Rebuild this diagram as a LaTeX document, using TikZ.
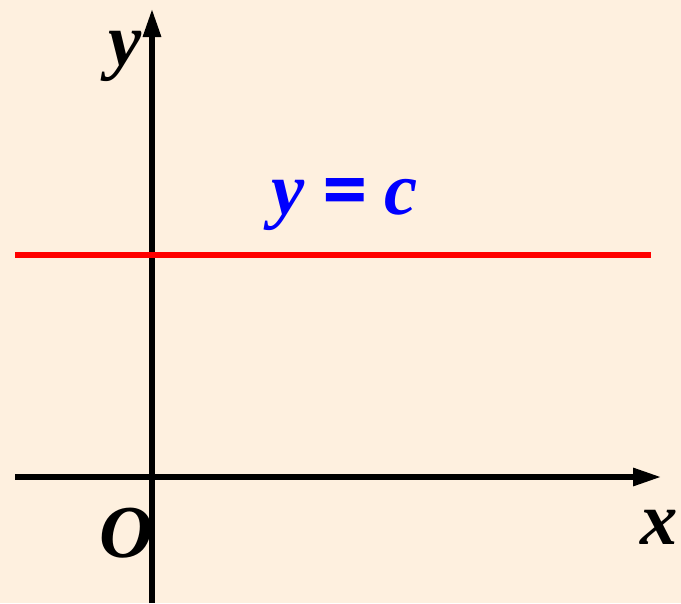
\documentclass[tikz,border=0pt]{standalone}
\usepackage{fontspec}
\setmainfont{Liberation Serif}
\newfontfamily\eqbold[FakeBold=4]{Liberation Serif}
\usetikzlibrary{arrows.meta}
\definecolor{paper}{HTML}{FEF0DF}
\definecolor{liney}{HTML}{FF0000}
\definecolor{textc}{HTML}{0000FF}
\begin{document}
\begin{tikzpicture}[x=.75pt,y=-.75pt,>={Triangle[length=21pt,width=13pt]},
  lbl/.style={font=\fontsize{56}{60}\selectfont\bfseries\itshape,inner sep=0pt}]
 \fill[paper](0,0)rectangle(681,603);
 \useasboundingbox(0,0)rectangle(681,603);
 \draw[->,line width=3.8pt](15,477)--(661,477);
 \draw[->,line width=3.8pt](152,603)--(152,9);
 \draw[liney,line width=3.8pt](15,255)--(651,255);
 \node[lbl]at(125,56){y};\node[lbl]at(126,533){O};\node[lbl]at(659,527){x};
 \node[lbl,textc]at(345,205){y {\eqbold\upshape=} c};
\end{tikzpicture}
\end{document}
